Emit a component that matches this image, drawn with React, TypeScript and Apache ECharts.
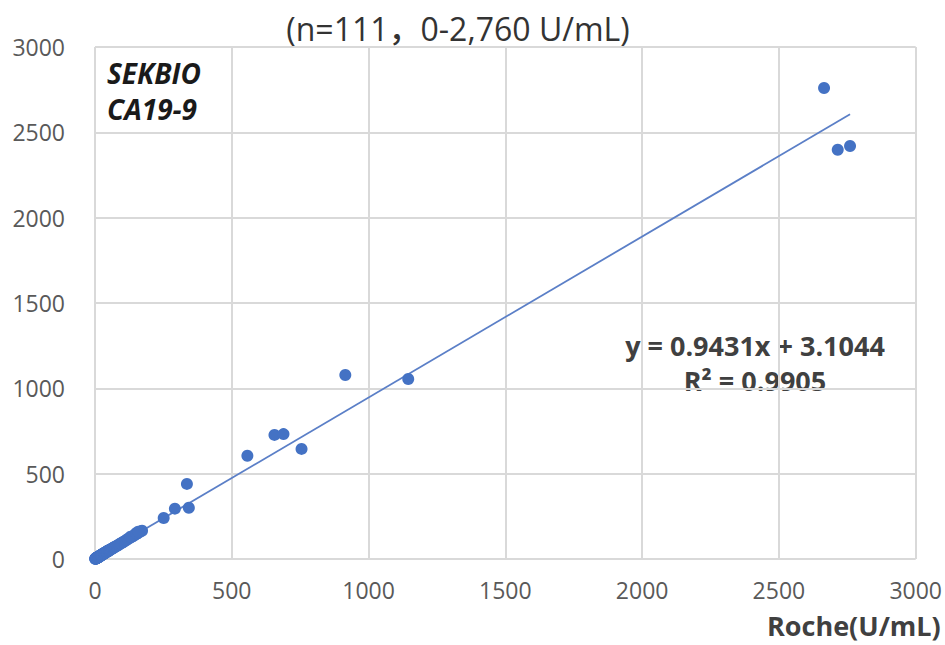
import React, { useEffect, useRef } from "react";
import * as echarts from "echarts";

const titleText = "(n=111，0-2,760 U/mL)";
const brandLines = ["SEKBIO", "CA19-9"];
const equationText = "y = 0.9431x + 3.1044";
const r2Text = "R² = 0.9905";
const xAxisName = "Roche(U/mL)";

const xTicks = [0, 500, 1000, 1500, 2000, 2500, 3000];
const yTicks = [0, 500, 1000, 1500, 2000, 2500, 3000];

const slope = 0.9431;
const intercept = 3.1044;
const trendRange = [0, 2760];

// Roche (x) vs SEKBIO (y)
const highPoints: [number, number][] = [
  [2665, 2760], [2715, 2398], [2760, 2420],
  [915, 1078], [1145, 1055],
  [557, 605], [656, 727], [689, 732], [755, 645],
  [336, 440], [343, 300], [292, 295], [251, 240],
];

const lowPoints: [number, number][] = [
  [1, 1], [1, 2], [2, 1], [2, 3], [3, 2], [3, 4], [4, 3], [4, 5], [5, 4], [5, 6],
  [6, 5], [6, 7], [7, 6], [7, 8], [8, 7], [8, 8], [9, 8], [9, 10], [10, 9], [10, 11],
  [11, 10], [11, 12], [12, 10], [12, 13], [13, 12], [13, 14], [14, 12], [14, 15], [15, 14], [15, 16],
  [16, 15], [16, 17], [17, 18], [18, 16], [18, 19], [19, 20], [20, 19], [20, 21], [21, 22], [22, 20],
  [22, 23], [23, 24], [24, 22], [25, 24], [25, 26], [26, 24], [27, 28], [28, 27], [28, 29], [30, 29],
  [31, 32], [32, 30], [33, 34], [34, 35], [35, 33], [36, 37], [38, 36], [39, 40], [40, 39], [41, 42],
  [43, 41], [44, 45], [45, 44], [47, 46], [48, 50], [50, 47], [52, 51], [54, 53], [56, 55], [58, 57],
  [60, 58], [62, 61], [65, 63], [68, 66], [70, 69], [73, 71], [76, 74], [80, 77], [84, 80], [88, 85],
  [92, 90], [96, 93], [100, 97], [105, 101], [110, 106], [115, 112], [120, 117], [126, 122], [132, 128], [138, 133],
  [145, 140], [152, 147], [160, 155], [168, 162], [172, 166], [130, 131], [150, 151], [158, 160],
];

const FONT = "'Open Sans', 'Noto Sans', 'Noto Sans CJK SC', sans-serif";

export default function App() {
  const ref = useRef<HTMLDivElement>(null);

  useEffect(() => {
    if (!ref.current) return;
    const chart = echarts.init(ref.current, undefined, { renderer: "svg" });
    const trendData = trendRange.map((x) => [x, slope * x + intercept]);
    const plain = (v: number) => String(v);
    chart.setOption({
      animation: false,
      backgroundColor: "#ffffff",
      grid: { left: 95, top: 47, width: 823, height: 512, containLabel: false },
      xAxis: {
        type: "value",
        min: xTicks[0],
        max: xTicks[xTicks.length - 1],
        interval: 500,
        axisLine: { show: false },
        axisTick: { show: false },
        axisLabel: { color: "#595959", fontSize: 23, fontFamily: FONT, margin: 19, formatter: plain },
        splitLine: { show: true, lineStyle: { color: "#d9d9d9", width: 2 } },
      },
      yAxis: {
        type: "value",
        min: yTicks[0],
        max: yTicks[yTicks.length - 1],
        interval: 500,
        axisLine: { show: false },
        axisTick: { show: false },
        axisLabel: { color: "#595959", fontSize: 23, fontFamily: FONT, margin: 30, formatter: plain },
        splitLine: { show: true, lineStyle: { color: "#d9d9d9", width: 2 } },
      },
      series: [
        {
          type: "line",
          data: trendData,
          symbol: "none",
          lineStyle: { color: "#5b7fc7", width: 1.8 },
          z: 2,
        },
        {
          type: "scatter",
          data: [...lowPoints, ...highPoints],
          symbolSize: 12,
          itemStyle: { color: "#4472c4", opacity: 1 },
          z: 3,
        },
      ],
      graphic: [
        {
          type: "text",
          x: 458,
          y: 28,
          style: {
            text: titleText,
            fontSize: 32,
            fontWeight: 500,
            fontFamily: FONT,
            fill: "#333333",
            align: "center",
            verticalAlign: "middle",
          },
        },
        {
          type: "text",
          x: 107,
          y: 73,
          style: {
            text: brandLines[0],
            fontSize: 28,
            fontStyle: "italic",
            fontWeight: "bold",
            fontFamily: FONT,
            fill: "#1a1a1a",
            verticalAlign: "middle",
          },
        },
        {
          type: "text",
          x: 107,
          y: 109,
          style: {
            text: brandLines[1],
            fontSize: 28,
            fontStyle: "italic",
            fontWeight: "bold",
            fontFamily: FONT,
            fill: "#1a1a1a",
            verticalAlign: "middle",
          },
        },
        {
          type: "text",
          x: 755,
          y: 345,
          style: {
            text: equationText,
            fontSize: 27,
            fontWeight: "bold",
            fontFamily: FONT,
            fill: "#404040",
            align: "center",
            verticalAlign: "middle",
          },
        },
        {
          type: "text",
          x: 755,
          y: 380,
          style: {
            text: r2Text,
            fontSize: 27,
            fontWeight: "bold",
            fontFamily: FONT,
            fill: "#404040",
            align: "center",
            verticalAlign: "middle",
          },
        },
        {
          type: "text",
          x: 767,
          y: 625,
          style: {
            text: xAxisName,
            fontSize: 27,
            fontWeight: "bold",
            fontFamily: FONT,
            fill: "#404040",
            verticalAlign: "middle",
          },
        },
      ],
    });
    return () => chart.dispose();
  }, []);

  return (
    <div
      style={{
        position: "fixed",
        left: 0,
        top: 0,
        width: 945,
        height: 645,
        overflow: "hidden",
        background: "#ffffff",
      }}
    >
      <div ref={ref} style={{ width: 945, height: 645 }} />
    </div>
  );
}
